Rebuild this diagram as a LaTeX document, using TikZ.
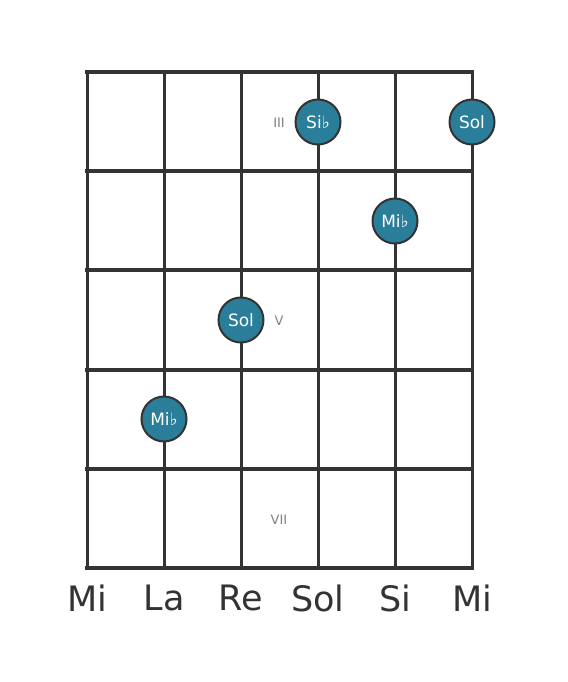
\documentclass[tikz,border=0pt]{standalone}
\usepackage{fontspec}
\setmainfont{DejaVu Sans}
\definecolor{linecol}{HTML}{333333}
\definecolor{notecol}{HTML}{2A7E99}
\definecolor{numcol}{HTML}{808080}
\tikzset{
  string/.style={draw=linecol,line width=3bp},
  fret/.style={draw=linecol,line width=4bp,line cap=rect},
  note/.style={circle,draw=linecol,line width=2bp,fill=notecol,minimum size=45bp,inner sep=0pt,text=white,font=\fontsize{17bp}{19bp}\selectfont},
  fretnum/.style={text=numcol,font=\fontsize{13bp}{15bp}\selectfont},
  strname/.style={text=linecol,font=\fontsize{35bp}{40bp}\selectfont},
}
\begin{document}
\begin{tikzpicture}[x=1bp,y=-1bp]
  \useasboundingbox (0,0) rectangle (568,682);
%%
  % Strings: top and bottom ends
  \coordinate (s1t) at (87,72);  \coordinate (s1b) at (87,568);
  \coordinate (s2t) at (164,72); \coordinate (s2b) at (164,568);
  \coordinate (s3t) at (241,72); \coordinate (s3b) at (241,568);
  \coordinate (s4t) at (318,72); \coordinate (s4b) at (318,568);
  \coordinate (s5t) at (395,72); \coordinate (s5b) at (395,568);
  \coordinate (s6t) at (472,72); \coordinate (s6b) at (472,568);
  \draw [string] (s1t) -- (s1b);
  \draw [string] (s2t) -- (s2b);
  \draw [string] (s3t) -- (s3b);
  \draw [string] (s4t) -- (s4b);
  \draw [string] (s5t) -- (s5b);
  \draw [string] (s6t) -- (s6b);
  % Frets
  \draw [fret] (87,72) -- (472,72);
  \draw [fret] (87,171) -- (472,171);
  \draw [fret] (87,270) -- (472,270);
  \draw [fret] (87,370) -- (472,370);
  \draw [fret] (87,469) -- (472,469);
  \draw [fret] (87,568) -- (472,568);
  % Fret numbers
  \node [fretnum] (n3) at (279,123) {III};
  \node [fretnum] (n5) at (279,321) {V};
  \node [fretnum] (n7) at (279,520) {VII};
  % Node: notes
  \node [note] (sib) at (318,122) {Si♭};
  \node [note] (sol1) at (472,122) {Sol};
  \node [note] (mib1) at (395,221) {Mi♭};
  \node [note] (sol2) at (241,320) {Sol};
  \node [note] (mib2) at (164,419) {Mi♭};
  % Node: string names
  \node [strname] (e6) at (87,598) {Mi};
  \node [strname] (a5) at (164,598) {La};
  \node [strname] (d4) at (241,598) {Re};
  \node [strname] (g3) at (318,598) {Sol};
  \node [strname] (b2) at (395,598) {Si};
  \node [strname] (e1) at (472,598) {Mi};
%
\end{tikzpicture}
\end{document}
